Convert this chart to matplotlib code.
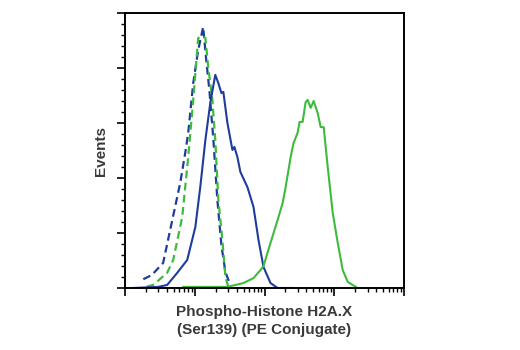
import matplotlib
matplotlib.use("Agg")
import matplotlib.pyplot as plt
from matplotlib.ticker import LogLocator, MultipleLocator, NullFormatter

# -------------------------------
# Data (x = intensity, y = % of max events)
# -------------------------------
ctrl_blue_x = [1.83, 2.42, 3.52, 6.19, 7.30, 8.06, 9.51, 11.2, 13.2,
               14.6, 16.2, 18.5, 21.1, 24.1, 27.5, 32.4]
ctrl_blue_y = [3.2, 4.7, 9.1, 38.2, 49.1, 56.4, 74.5, 86.5, 94.9,
               83.0, 72.0, 54.0, 32.0, 15.6, 5.8, 1.1]

ctrl_green_x = [2.05, 2.53, 4.02, 4.91, 6.61, 8.06, 9.51, 11.2, 12.8, 14.2,
                15.6, 17.9, 19.7, 21.8, 24.9, 27.5, 30.3]
ctrl_green_y = [0.5, 1.1, 5.5, 10.2, 25.8, 47.6, 68.4, 90.9, 91.6, 90.9,
                80.4, 68.4, 53.8, 32.0, 17.5, 4.0, 0.4]

treated_blue_x = [1.30, 2.98, 4.02, 5.60, 7.80, 10.2, 12.0, 14.2, 16.7, 19.7,
                  21.8, 24.1, 25.7, 29.4, 34.7, 37.0, 40.9, 45.1, 56.9, 69.5,
                  82.0, 96.8, 122, 154, 253]
treated_blue_y = [0.0, 0.4, 1.1, 5.5, 10.2, 22.2, 36.7, 53.8, 67.3, 77.5,
                  74.5, 70.9, 71.3, 60.0, 50.2, 51.3, 47.6, 42.2, 36.7, 29.5,
                  17.5, 7.6, 1.8, 0.0, 0.0]

treated_green_x = [6.83, 29.4, 49.9, 69.5, 87.5, 96.8, 122, 154, 182, 201,
                   237, 261, 298, 319, 352, 389, 416, 459, 507, 579,
                   639, 706, 806, 951, 1122, 1324, 1563, 2040]
treated_green_y = [0.4, 0.4, 1.8, 3.6, 6.5, 8.0, 16.4, 24.7, 30.9, 36.7,
                   47.6, 52.7, 56.4, 60.4, 60.4, 67.6, 68.4, 65.5, 68.0, 63.6,
                   58.5, 58.5, 44.0, 27.3, 16.4, 6.5, 2.2, 0.4]

blue = "#1f3c9c"
green = "#3dbb3d"
text_col = "#3a3a3a"

# -------------------------------
# Plot
# -------------------------------
fig = plt.figure(figsize=(5.2, 3.5), dpi=100)
ax = fig.add_axes([125 / 520, 1 - 288 / 350, 279 / 520, 275 / 350])

ax.plot(ctrl_blue_x, ctrl_blue_y, color=blue, lw=1.6, dashes=(3.5, 2))
ax.plot(ctrl_green_x, ctrl_green_y, color=green, lw=1.6, dashes=(3.5, 2))
ax.plot(treated_blue_x, treated_blue_y, color=blue, lw=1.5)
ax.plot(treated_green_x, treated_green_y, color=green, lw=1.5)

ax.set_xscale("log")
ax.set_xlim(1, 1e4)
ax.set_ylim(0, 100)

ax.xaxis.set_major_locator(LogLocator(base=10))
ax.xaxis.set_minor_locator(LogLocator(base=10, subs=range(2, 10)))
ax.xaxis.set_major_formatter(NullFormatter())
ax.xaxis.set_minor_formatter(NullFormatter())
ax.yaxis.set_major_locator(MultipleLocator(20))
ax.yaxis.set_minor_locator(MultipleLocator(4))
ax.yaxis.set_major_formatter(NullFormatter())

ax.tick_params(which="major", length=5.8, width=1.2, direction="out")
ax.tick_params(which="minor", length=2.9, width=1.0, direction="out")

for s in ax.spines.values():
    s.set_linewidth(1.4)

font = ["Liberation Sans", "DejaVu Sans"]
ax.set_ylabel("Events", fontsize=11, fontweight="bold", color=text_col,
              family=font, labelpad=3)
ax.set_xlabel("Phospho-Histone H2A.X\n(Ser139) (PE Conjugate)", fontsize=11,
              fontweight="bold", color=text_col, family=font, labelpad=3,
              linespacing=1.4)

fig.savefig("out.png", dpi=100)
